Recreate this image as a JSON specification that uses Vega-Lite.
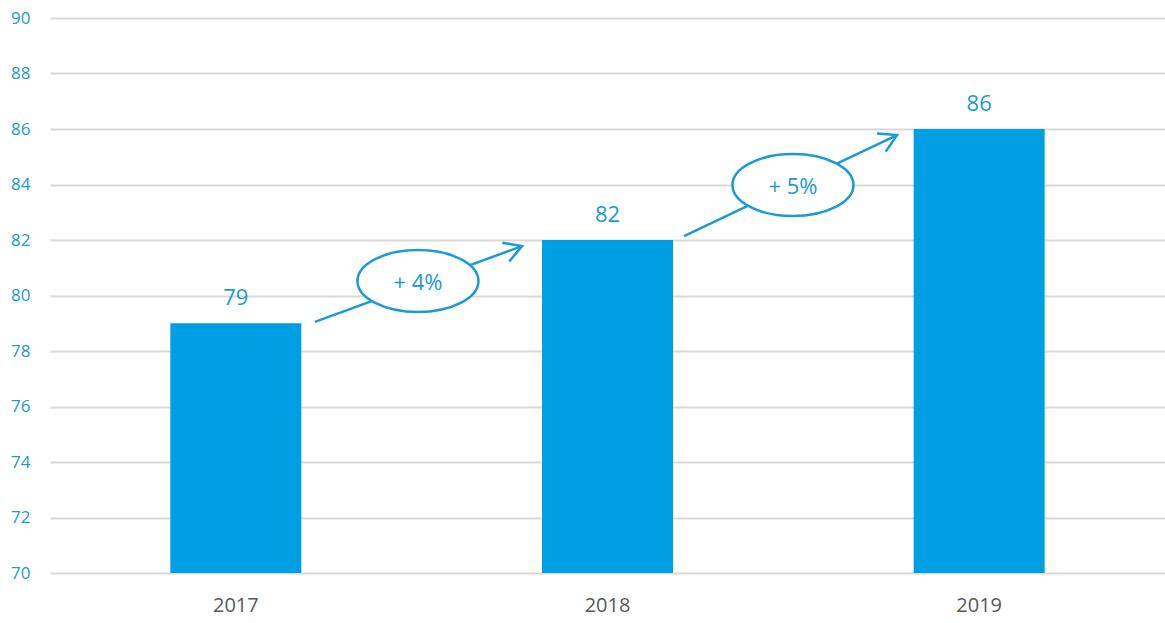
{
  "$schema": "https://vega.github.io/schema/vega-lite/v6.json",
  "width": 1115,
  "height": 555,
  "autosize": "none",
  "padding": {"left": 50, "top": 18, "right": 0, "bottom": 50},
  "background": "white",
  "config": {
    "view": {"stroke": null},
    "font": "Open Sans"
  },
  "datasets": {
    "bars": [
      {"year": "2017", "value": 79},
      {"year": "2018", "value": 82},
      {"year": "2019", "value": 86}
    ],
    "growth": [
      {"label": "+ 4%", "x": 0.713, "y": 79.05, "x2": 1.27, "y2": 81.78, "cx": 0.99, "cy": 80.52, "angle": -20.2},
      {"label": "+ 5%", "x": 1.706, "y": 82.14, "x2": 2.279, "y2": 85.78, "cx": 1.999, "cy": 83.98, "angle": -25.4}
    ]
  },
  "layer": [
    {
      "data": {"name": "bars"},
      "layer": [
        {
          "mark": {"type": "bar", "width": 131, "color": "#009fe3"},
          "encoding": {
            "x": {
              "field": "year", "type": "nominal",
              "scale": {"paddingInner": 0, "paddingOuter": 0},
              "axis": {"title": null, "domain": false, "ticks": false, "labelAngle": 0, "labelColor": "#595959", "labelFontSize": 20, "labelPadding": 22}
            },
            "y": {
              "field": "value", "type": "quantitative",
              "scale": {"domain": [70, 90], "zero": false, "nice": false},
              "axis": {"title": null, "domain": false, "ticks": false, "values": [70, 72, 74, 76, 78, 80, 82, 84, 86, 88, 90], "grid": true, "gridColor": "#d9d9d9", "gridWidth": 2, "labelColor": "#1a9ad6", "labelFontSize": 17, "labelPadding": 20}
            },
            "y2": {"datum": 70}
          }
        },
        {
          "mark": {"type": "text", "color": "#1a9ad6", "fontSize": 22, "baseline": "bottom", "dy": -13},
          "encoding": {
            "x": {"field": "year", "type": "nominal"},
            "y": {"field": "value", "type": "quantitative"},
            "text": {"field": "value", "type": "quantitative"}
          }
        }
      ]
    },
    {
      "data": {"name": "growth"},
      "layer": [
        {
          "mark": {"type": "rule", "color": "#1a9ad6", "strokeWidth": 2.5, "clip": false},
          "encoding": {
            "x": {"field": "x", "type": "quantitative", "scale": {"domain": [0, 3], "nice": false, "zero": false}, "axis": null},
            "y": {"field": "y", "type": "quantitative"},
            "x2": {"field": "x2"},
            "y2": {"field": "y2"}
          }
        },
        {
          "mark": {"type": "point", "shape": "M-1,0A1,0.512,0,1,0,1,0A1,0.512,0,1,0,-1,0Z", "size": 14641, "filled": false, "fill": "white", "stroke": "#1a9ad6", "strokeWidth": 2.5, "opacity": 1, "fillOpacity": 1},
          "encoding": {
            "x": {"field": "cx", "type": "quantitative", "scale": {"domain": [0, 3], "nice": false, "zero": false}, "axis": null},
            "y": {"field": "cy", "type": "quantitative"}
          }
        },
        {
          "mark": {"type": "text", "color": "#1a9ad6", "fontSize": 22, "baseline": "middle", "align": "center", "dy": 2},
          "encoding": {
            "x": {"field": "cx", "type": "quantitative", "scale": {"domain": [0, 3], "nice": false, "zero": false}, "axis": null},
            "y": {"field": "cy", "type": "quantitative"},
            "text": {"field": "label", "type": "nominal"}
          }
        },
        {
          "mark": {"type": "point", "shape": "M-1,-0.58L0,0L-1,0.58", "size": 1200, "filled": false, "stroke": "#1a9ad6", "strokeWidth": 2.5, "opacity": 1},
          "encoding": {
            "x": {"field": "x2", "type": "quantitative", "scale": {"domain": [0, 3], "nice": false, "zero": false}, "axis": null},
            "y": {"field": "y2", "type": "quantitative"},
            "angle": {"field": "angle", "type": "quantitative", "scale": null}
          }
        }
      ]
    }
  ],
  "resolve": {"scale": {"x": "independent"}}
}
